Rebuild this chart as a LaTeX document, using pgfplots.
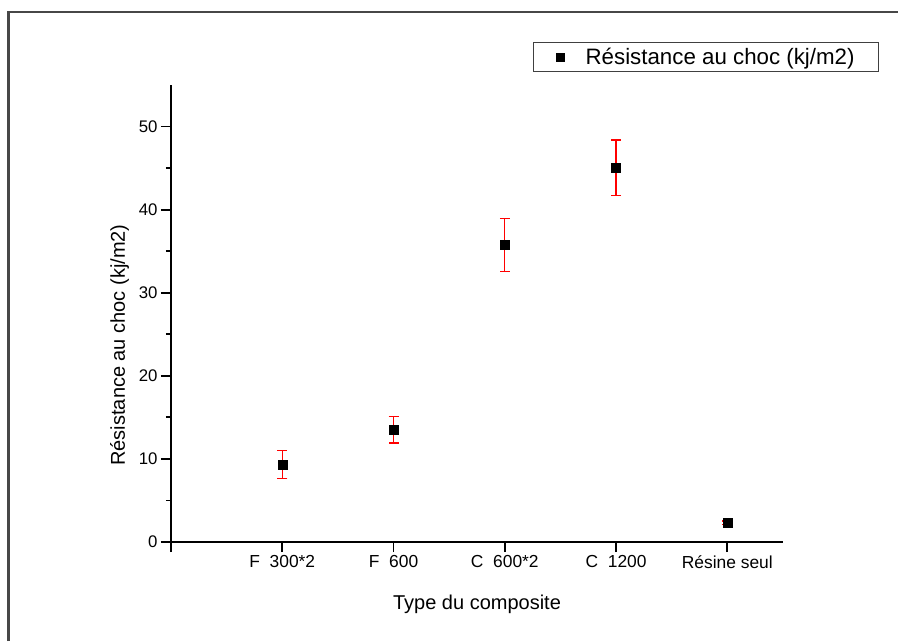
\documentclass[border=0pt]{standalone}
\usepackage{fontspec}
\setmainfont{Liberation Sans}
\usepackage{pgfplots}
\pgfplotsset{compat=1.18}

% impact strength per composite type: position, mean, error
\pgfplotstableread{
x  y      e
1  9.36   1.67
2  13.49  1.57
3  35.78  3.20
4  45.06  3.33
5  2.33   0.20
}\impact

\begin{document}
\begin{tikzpicture}[x=1pt,y=1pt]
\path[use as bounding box] (0,0) rectangle (898,641);
% page frame
\draw[line width=2.2pt, black!72] (8.5,0) -- (8.5,629) -- (898,629);
\begin{axis}[
  at={(171pt,99pt)}, anchor=south west,
  scale only axis, width=612pt, height=457pt,
  xmin=0, xmax=5.5, ymin=0, ymax=55,
  axis lines=left,
  axis line style={-, line width=1.8pt, black},
  tick align=outside,
  major tick length=10pt, minor tick length=5pt,
  every tick/.style={line width=1.8pt, black},
  xtick={0,1,2,3,4,5},
  xticklabels={,F\ \ 300*2,F\ \ 600,C\ \ 600*2,C\ \ 1200,Résine seul},
  ytick={0,10,20,30,40,50},
  minor y tick num=1,
  /pgf/number format/assume math mode=true,
  yticklabel style={font=\fontsize{16.8}{19}\selectfont},
  xticklabel style={font=\fontsize{17.4}{20}\selectfont},
  label style={font=\fontsize{20}{24}\selectfont},
  xlabel={Type du composite},
  xlabel style={yshift=-20pt},
  ylabel={Résistance au choc (kj/m2)},
  ylabel shift=3pt,
  ylabel style={at={(ticklabel cs:0.431)}},
  legend style={
    at={(1.157,1.094)}, anchor=north east,
    draw=black!75, line width=1pt,
    font=\fontsize{22.3}{26}\selectfont,
    inner xsep=21pt, inner ysep=2.5pt,
    nodes={inner sep=3pt},
    /tikz/every odd column/.append style={column sep=18pt},
  },
  legend image code/.code={
    \path (-5pt,0) (4pt,0);
    \draw[black, fill=black, mark=square*, mark size=3.8pt, line width=0.4pt] plot coordinates {(0pt,0pt)};
  },
]
\addplot+[only marks, mark=square*, mark size=4.5pt, black,
  mark options={fill=black, line width=0.4pt},
  error bars/.cd, y dir=both, y explicit,
  error bar style={red, line width=1.2pt},
  error mark=-,
  error mark options={rotate=90, draw=red, line width=1.2pt, mark size=5pt}]
  table[x=x, y=y, y error=e] {\impact};
\addlegendentry{Résistance au choc (kj/m2)}
\end{axis}
\end{tikzpicture}
\end{document}
